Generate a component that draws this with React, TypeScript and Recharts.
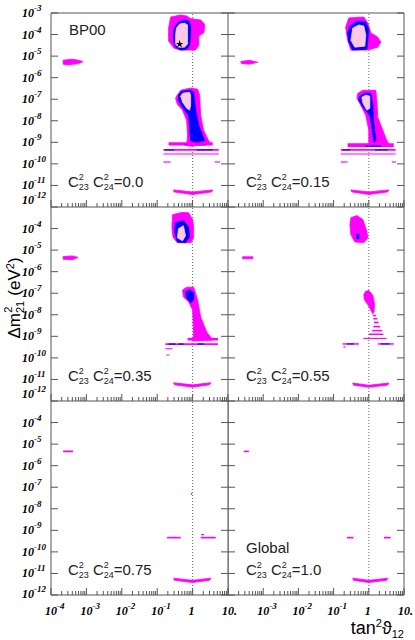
import React from "react";
import {
  ScatterChart,
  Scatter,
  XAxis,
  YAxis,
  ReferenceLine,
  ReferenceArea,
  Symbols,
} from "recharts";

type Poly = [number, number][];
// [x1, x2, y1, y2]
type Stripe = [number, number, number, number];

const X_DOMAIN: [number, number] = [1e-4, 10];
const Y_DOMAIN: [number, number] = [1e-12, 1e-3];

const xMajor = [1e-4, 1e-3, 1e-2, 1e-1, 1, 10];
const xMinor = [1e-4, 1e-3, 1e-2, 1e-1, 1].flatMap((d) =>
  [2, 3, 4, 5, 6, 7, 8, 9].map((k) => k * d)
);
const xAllTicks = [...xMajor, ...xMinor];
const yMajor = [1e-12, 1e-11, 1e-10, 1e-9, 1e-8, 1e-7, 1e-6, 1e-5, 1e-4, 1e-3];
const yLabelsTop = yMajor;
const yLabelsRest = [1e-12, 1e-11, 1e-10, 1e-9, 1e-8, 1e-7, 1e-6, 1e-5, 1e-4];
const xLabelsLeft = [1e-4, 1e-3, 1e-2, 1e-1, 1, 10];
const xLabelsRight = [1e-3, 1e-2, 1e-1, 1, 10];

const mixValues = ["0.0", "0.15", "0.35", "0.55", "0.75", "1.0"];
const bestFit: Poly = [[0.43, 3.6e-5]];

// ---- C23^2 C24^2 = 0.0 (BP00)
const tlMagenta: Poly[] = [
  [[0.24, 6.5e-4], [0.46, 8.1e-4], [0.68, 7.3e-4], [0.87, 5.5e-4], [1.7, 4.7e-4], [2.2, 3e-4], [2.1, 1.25e-4], [1.5, 8.5e-5], [1.5, 3.2e-5], [1.2, 1.9e-5], [0.46, 1.9e-5], [0.3, 2.3e-5], [0.21, 5e-5], [0.21, 2e-4]],
  [[2.2e-4, 6.5e-6], [4e-4, 7.2e-6], [6e-4, 6.5e-6], [8e-4, 5.5e-6], [6e-4, 4.5e-6], [3e-4, 3.9e-6], [2.2e-4, 4.2e-6]],
  [[0.37, 1.55e-7], [0.46, 2.6e-7], [0.88, 3.3e-7], [1.39, 2.9e-7], [1.58, 1.55e-7], [1.69, 1.8e-8], [2.05, 3.6e-9], [2.85, 1.2e-9], [3.25, 8.5e-10], [0.88, 6.5e-10], [0.68, 7.2e-10], [0.72, 2.1e-9], [0.68, 1.05e-8], [0.52, 3.1e-8], [0.37, 5.9e-8], [0.33, 1.1e-7]],
  [[0.29, 6.2e-12], [1, 5e-12], [3.7, 6.2e-12], [3.4, 5e-12], [1, 3.8e-12], [0.3, 5e-12]],
];
const tlBlue: Poly[] = [
  [[0.31, 2.2e-4], [0.4, 3.8e-4], [0.59, 4.7e-4], [0.77, 4.3e-4], [0.88, 2.5e-4], [0.88, 9.5e-5], [0.82, 3.2e-5], [0.68, 2.1e-5], [0.46, 1.9e-5], [0.33, 2.6e-5], [0.29, 5.5e-5], [0.29, 1.2e-4]],
  [[0.4, 1.55e-7], [0.49, 2.35e-7], [0.88, 2.6e-7], [1.07, 2.1e-7], [1.22, 3.1e-8], [1.48, 6.2e-9], [2.2, 1.2e-9], [1.3, 1e-9], [0.88, 1.2e-9], [0.82, 6.2e-9], [0.77, 1.8e-8], [0.59, 3.1e-8], [0.46, 5.9e-8], [0.4, 9e-8]],
];
const tlPink: Poly[] = [
  [[0.35, 2e-4], [0.43, 3.1e-4], [0.59, 3.4e-4], [0.72, 2.8e-4], [0.72, 9.5e-5], [0.72, 3.6e-5], [0.59, 2.6e-5], [0.4, 2.6e-5], [0.33, 3.6e-5], [0.33, 9.5e-5]],
  [[0.46, 1.38e-7], [0.52, 1.9e-7], [0.82, 2.1e-7], [0.88, 1.55e-7], [0.88, 5.2e-8], [0.82, 3.1e-8], [0.68, 3.8e-8], [0.52, 7.2e-8]],
];
const tlStripesM: Stripe[] = [
  [0.21, 3.7, 7.2e-10, 1e-9],
  [0.15, 5.5, 4.1e-10, 4.9e-10],
  [0.15, 5.5, 2.7e-10, 3e-10],
  [0.15, 0.24, 1.15e-10, 1.3e-10],
  [4.2, 6, 1.15e-10, 1.3e-10],
];
const tlStripesB: Stripe[] = [
  [0.6, 2.4, 7.2e-10, 8e-10],
  [0.16, 0.3, 4.2e-10, 4.7e-10],
  [1.3, 3.7, 4.2e-10, 4.7e-10],
];

// ---- 0.15
const trMagenta: Poly[] = [
  [[0.27, 5.9e-4], [0.72, 6.5e-4], [0.94, 3.4e-4], [1.14, 1.2e-4], [1.8, 7.6e-5], [2.2, 4.5e-5], [1.8, 2.6e-5], [0.94, 1.9e-5], [0.31, 1.9e-5], [0.25, 5.5e-5], [0.22, 2.2e-4]],
  [[2.3e-4, 5.6e-6], [4e-4, 6.4e-6], [7e-4, 5.2e-6], [4e-4, 4.2e-6], [2.4e-4, 4.6e-6]],
  [[0.49, 1.9e-7], [0.68, 2.6e-7], [1.58, 2.6e-7], [1.69, 9e-8], [1.8, 1.45e-8], [2.5, 3.6e-9], [3.25, 1.2e-9], [3.7, 8.9e-10], [1.0, 8.9e-10], [1.0, 3.6e-9], [0.82, 1.8e-8], [0.59, 5.2e-8], [0.46, 1.1e-7]],
  [[0.31, 6.2e-12], [1, 5e-12], [3.7, 6.2e-12], [3.4, 5e-12], [1, 3.8e-12], [0.33, 5e-12]],
];
const trBlue: Poly[] = [
  [[0.31, 2.8e-4], [0.49, 4.2e-4], [0.82, 3.8e-4], [1.0, 1.6e-4], [0.94, 5.5e-5], [0.88, 2.1e-5], [0.35, 1.9e-5], [0.27, 4.5e-5], [0.25, 1.2e-4]],
  [[0.55, 1.38e-7], [0.77, 1.9e-7], [1.14, 1.9e-7], [1.3, 5.2e-8], [1.35, 1.05e-8], [1.6, 1.2e-9], [1.4, 1e-9], [1.2, 6.2e-9], [1.07, 1.8e-8], [0.68, 4.3e-8], [0.52, 9e-8]],
];
const trPink: Poly[] = [
  [[0.35, 2e-4], [0.52, 2.8e-4], [0.72, 2.5e-4], [0.82, 9.5e-5], [0.77, 2.9e-5], [0.4, 2.6e-5], [0.31, 5.5e-5]],
  [[0.63, 1.23e-7], [0.82, 1.55e-7], [1.07, 1.38e-7], [1.07, 3.8e-8], [0.88, 3.1e-8], [0.68, 6.6e-8]],
];
const trStripesM: Stripe[] = [
  [0.25, 5.1, 6e-10, 9e-10],
  [0.16, 5.8, 4.1e-10, 4.9e-10],
  [0.16, 5.8, 2.7e-10, 3e-10],
  [0.16, 0.25, 1.15e-10, 1.3e-10],
  [4.5, 6, 1.15e-10, 1.3e-10],
];
const trStripesB: Stripe[] = [
  [0.8, 2.2, 6.2e-10, 7e-10],
  [0.18, 0.3, 4.2e-10, 4.7e-10],
  [1.5, 3.5, 4.2e-10, 4.7e-10],
];

// ---- 0.35
const mlMagenta: Poly[] = [
  [[0.27, 4.4e-4], [0.5, 5.6e-4], [0.77, 5.4e-4], [1.0, 2.6e-4], [1.07, 1.2e-4], [1.07, 4e-5], [0.9, 2.2e-5], [0.37, 2.2e-5], [0.28, 4e-5], [0.26, 1.1e-4]],
  [[2.2e-4, 5e-6], [4e-4, 5.4e-6], [5.8e-4, 4.6e-6], [4e-4, 3.6e-6], [2.2e-4, 3.8e-6]],
  [[0.52, 1.4e-7], [0.68, 1.9e-7], [1.07, 1.9e-7], [1.39, 4.9e-8], [1.69, 7.9e-9], [2.5, 1.6e-9], [3.7, 6.7e-10], [1.0, 6e-10], [1.07, 1.4e-9], [1.0, 1.7e-8], [0.77, 4e-8], [0.55, 6.7e-8]],
  [[0.29, 7e-12], [1, 5.6e-12], [3.25, 7e-12], [3.0, 5.6e-12], [1, 4.4e-12], [0.31, 5.6e-12]],
];
const mlBlue: Poly[] = [
  [[0.33, 1.9e-4], [0.55, 2.3e-4], [0.77, 1.2e-4], [0.82, 4.1e-5], [0.63, 2.2e-5], [0.37, 2.4e-5], [0.31, 7.1e-5]],
  [[0.63, 1.15e-7], [0.82, 1.4e-7], [1.07, 1.05e-7], [1.07, 4.9e-8], [0.88, 3.6e-8], [0.68, 6e-8]],
];
const mlPink: Poly[] = [
  [[0.4, 1e-4], [0.55, 1.35e-4], [0.63, 4.6e-5], [0.52, 2.7e-5], [0.37, 3.7e-5]],
];
const mlStripesM: Stripe[] = [
  [0.72, 5.2, 6.4e-10, 8.5e-10],
  [0.17, 5.2, 4.0e-10, 4.8e-10],
  [0.17, 0.27, 2.5e-10, 2.8e-10],
  [0.18, 0.22, 1.3e-10, 1.45e-10],
];
const mlStripesB: Stripe[] = [
  [0.21, 0.33, 4.1e-10, 4.7e-10],
  [0.4, 0.55, 4.1e-10, 4.7e-10],
  [1.39, 2.05, 4.1e-10, 4.7e-10],
];

// ---- 0.55
const mrMagenta: Poly[] = [
  [[0.31, 3.2e-4], [0.46, 4e-4], [0.68, 2.6e-4], [0.88, 7.3e-5], [0.94, 3.7e-5], [0.72, 2.2e-5], [0.4, 2.4e-5], [0.31, 5.1e-5], [0.29, 1.5e-4]],
  [[2.6e-4, 4.9e-6], [5.1e-4, 4.9e-6], [5.1e-4, 4e-6], [2.6e-4, 4e-6]],
  [[0.72, 8.4e-8], [0.8, 1.2e-7], [1.0, 1.35e-7], [1.3, 8e-8], [1.45, 3.2e-8], [1.42, 1.4e-8], [1.3, 1.1e-8], [1.0, 2.5e-8], [0.75, 5e-8]],
  [[0.35, 6.8e-12], [1, 5.4e-12], [3.7, 6.8e-12], [3.4, 5.4e-12], [1, 4.4e-12], [0.37, 5.4e-12]],
];
const mrBlue: Poly[] = [
  [[0.45, 5.6e-5], [0.52, 5.6e-5], [0.52, 3.4e-5], [0.45, 3.4e-5]],
];
const mrPink: Poly[] = [];
const mrStripesM: Stripe[] = [
  [1.3, 1.6, 8.5e-9, 1e-8],
  [1.35, 1.75, 6e-9, 7.2e-9],
  [1.4, 1.9, 4e-9, 4.8e-9],
  [1.35, 2.1, 2.6e-9, 3.1e-9],
  [1.25, 2.4, 1.7e-9, 2e-9],
  [1.0, 2.6, 1.15e-9, 1.35e-9],
  [0.7, 3.2, 7.5e-10, 8.5e-10],
  [0.18, 0.52, 4.1e-10, 4.8e-10],
  [1.8, 5.1, 4.1e-10, 4.8e-10],
  [0.19, 0.22, 3e-10, 3.4e-10],
];
const mrStripesB: Stripe[] = [
  [0.24, 0.38, 4.2e-10, 4.7e-10],
  [2.2, 3.9, 4.2e-10, 4.7e-10],
];

// ---- 0.75
const blMagenta: Poly[] = [
  [[0.29, 6e-12], [1, 4.8e-12], [3.25, 6e-12], [3.0, 4.8e-12], [1, 3.8e-12], [0.31, 4.8e-12]],
];
const blStripesM: Stripe[] = [
  [2.2e-4, 4.2e-4, 4.2e-6, 5e-6],
  [0.9, 0.97, 4.5e-8, 5.5e-8],
  [0.19, 0.46, 4.2e-10, 5e-10],
  [1.69, 4.5, 4.2e-10, 5e-10],
  [1.75, 2.1, 5.9e-10, 6.8e-10],
];

// ---- 1.0 (Global)
const brMagenta: Poly[] = [
  [[0.35, 6e-12], [1, 4.8e-12], [3.5, 6e-12], [3.2, 4.8e-12], [1, 3.8e-12], [0.37, 4.8e-12]],
];
const brStripesM: Stripe[] = [
  [2.8e-4, 3.9e-4, 4.2e-6, 5e-6],
  [0.24, 0.37, 4.2e-10, 5e-10],
  [2.7, 4.2, 4.2e-10, 5e-10],
];

const MAGENTA = "#ff00ff";
const BLUE = "#0000ff";
const PINK = "#ffc8e4";
const AXIS = "#555";
const SANS = "'Liberation Sans', Arial, sans-serif";
const SERIF = "'Liberation Serif', 'Times New Roman', serif";

interface PanelCfg {
  id: string;
  row: number;
  col: number;
  magenta: Poly[];
  blue: Poly[];
  pink: Poly[];
  stripesM: Stripe[];
  stripesB: Stripe[];
  star?: Poly;
}

const panels: PanelCfg[] = [
  { id: "tl", row: 0, col: 0, magenta: tlMagenta, blue: tlBlue, pink: tlPink, stripesM: tlStripesM, stripesB: tlStripesB, star: bestFit },
  { id: "tr", row: 0, col: 1, magenta: trMagenta, blue: trBlue, pink: trPink, stripesM: trStripesM, stripesB: trStripesB },
  { id: "ml", row: 1, col: 0, magenta: mlMagenta, blue: mlBlue, pink: mlPink, stripesM: mlStripesM, stripesB: mlStripesB },
  { id: "mr", row: 1, col: 1, magenta: mrMagenta, blue: mrBlue, pink: mrPink, stripesM: mrStripesM, stripesB: mrStripesB },
  { id: "bl", row: 2, col: 0, magenta: blMagenta, blue: [], pink: [], stripesM: blStripesM, stripesB: [] },
  { id: "br", row: 2, col: 1, magenta: brMagenta, blue: [], pink: [], stripesM: brStripesM, stripesB: [] },
];

const Empty = () => <g />;

const StarShape = (props: any) => (
  <Symbols type="star" size={18} cx={props.cx} cy={props.cy} fill="#000" />
);

const labelStyle = {
  fontFamily: SERIF,
  fontWeight: "bold" as const,
  fontStyle: "italic" as const,
  fontSize: 12,
  fill: "#000",
};

const near = (a: number, b: number) => Math.abs(a / b - 1) < 1e-6;
const isMajor = (v: number) => xMajor.some((m) => near(v, m));

// tick marks drawn inward; labels outside for the outer panels
const makeBottomTick = (labels: number[] | null) => (props: any) => {
  const { x, y, payload } = props;
  const v = payload.value;
  const len = isMajor(v) ? 7 : 4;
  let label = null;
  if (labels && labels.some((l) => near(v, l))) {
    if (near(v, 1)) {
      label = (
        <text x={x - 4} y={y + 20} {...labelStyle}>
          1
        </text>
      );
    } else if (near(v, 10)) {
      label = (
        <text x={x - 6} y={y + 20} {...labelStyle}>
          10.
        </text>
      );
    } else {
      label = (
        <text x={x - 6} y={y + 20} {...labelStyle}>
          10
          <tspan dy={-6} fontSize={9}>
            {Math.round(Math.log10(v))}
          </tspan>
        </text>
      );
    }
  }
  return (
    <g>
      <line x1={x} x2={x} y1={y} y2={y - len} stroke={AXIS} />
      {label}
    </g>
  );
};

const TopTick = (props: any) => {
  const { x, y, payload } = props;
  const len = isMajor(payload.value) ? 7 : 4;
  return <line x1={x} x2={x} y1={y} y2={y + len} stroke={AXIS} />;
};

const makeLeftTick = (labels: number[] | null, row: number) => (props: any) => {
  const { x, y, payload } = props;
  const v = payload.value;
  const e = Math.round(Math.log10(v));
  const dy = e === -12 ? (row < 2 ? -3 : 3) : 4;
  const show = labels && labels.some((l) => near(v, l));
  return (
    <g>
      <line x1={x} x2={x + 7} y1={y} y2={y} stroke={AXIS} />
      {show && (
        <text x={x - 29} y={y + dy} {...labelStyle}>
          10
          <tspan dy={-6} fontSize={9}>
            {e}
          </tspan>
        </text>
      )}
    </g>
  );
};

const RightTick = (props: any) => {
  const { x, y } = props;
  return <line x1={x} x2={x - 7} y1={y} y2={y} stroke={AXIS} />;
};

const polyScatter = (key: string, poly: Poly, color: string) => (
  <Scatter
    key={key}
    xAxisId="b"
    yAxisId="l"
    data={poly.map(([x, y]) => ({ x, y }))}
    shape={Empty}
    line={{ fill: color, stroke: color, strokeWidth: 0.8 }}
    lineType="joint"
    lineJointType="linearClosed"
    legendType="none"
    isAnimationActive={false}
  />
);

const stripeArea = (key: string, s: Stripe, color: string) => (
  <ReferenceArea
    key={key}
    xAxisId="b"
    yAxisId="l"
    x1={s[0]}
    x2={s[1]}
    y1={s[2]}
    y2={s[3]}
    fill={color}
    fillOpacity={1}
    stroke="none"
    ifOverflow="visible"
  />
);

const logX = { type: "number" as const, scale: "log" as const, domain: X_DOMAIN, allowDataOverflow: true, interval: 0 as const };
const logY = { type: "number" as const, scale: "log" as const, domain: Y_DOMAIN, allowDataOverflow: true, interval: 0 as const };
const axisCommon = { mirror: true, tickSize: 0, tickMargin: 0, tickLine: false, axisLine: { stroke: AXIS } };

function Panel({ p }: { p: PanelCfg }) {
  const leftCol = p.col === 0;
  const labW = leftCol ? 51 : 0;
  const plotW = leftCol ? 177 : 176;
  const mTop = p.row === 0 ? 13 : 0;
  // room for the "10." label at the right end of the bottom row
  const mRight = p.row === 2 || !leftCol ? 11 : 0;
  const labH = p.row === 2 ? 30 : 0;
  const width = labW + plotW + mRight;
  const height = mTop + 194 + labH;
  const left = leftCol ? 0 : 228;
  const top = [0, 207, 401][p.row];

  const xLabels = p.row === 2 ? (leftCol ? xLabelsLeft : xLabelsRight) : null;
  const yLabels = leftCol ? (p.row === 0 ? yLabelsTop : yLabelsRest) : null;

  return (
    <div style={{ position: "absolute", left, top }}>
      <ScatterChart
        width={width}
        height={height}
        margin={{ top: mTop, right: mRight, bottom: labH, left: labW }}
      >
        <XAxis xAxisId="b" dataKey="x" {...logX} {...axisCommon} orientation="bottom" height={1} ticks={xAllTicks} tick={makeBottomTick(xLabels)} />
        <XAxis xAxisId="t" {...logX} {...axisCommon} orientation="top" height={1} ticks={xAllTicks} tick={TopTick} />
        <YAxis yAxisId="l" dataKey="y" {...logY} {...axisCommon} orientation="left" width={1} ticks={yMajor} tick={makeLeftTick(yLabels, p.row)} />
        <YAxis yAxisId="r" {...logY} {...axisCommon} orientation="right" width={1} ticks={yMajor} tick={RightTick} />

        <ReferenceLine xAxisId="b" yAxisId="l" x={1} stroke="#666" strokeDasharray="1 2" />

        {p.magenta.map((poly, i) => polyScatter(`m${i}`, poly, MAGENTA))}
        {p.blue.map((poly, i) => polyScatter(`b${i}`, poly, BLUE))}
        {p.pink.map((poly, i) => polyScatter(`p${i}`, poly, PINK))}
        {p.stripesM.map((s, i) => stripeArea(`sm${i}`, s, MAGENTA))}
        {p.stripesB.map((s, i) => stripeArea(`sb${i}`, s, BLUE))}
        {p.star && (
          <Scatter
            xAxisId="b"
            yAxisId="l"
            data={p.star.map(([x, y]) => ({ x, y }))}
            shape={StarShape}
            legendType="none"
            isAnimationActive={false}
          />
        )}
      </ScatterChart>
    </div>
  );
}

function MixLabel({ x, y, value }: { x: number; y: number; value: string }) {
  return (
    <text x={x} y={y} fontFamily={SANS} fontSize={15} fill="#222">
      C
      <tspan fontSize={9} dy={3}>23</tspan>
      <tspan fontSize={9} dx={-10} dy={-10}>2</tspan>
      <tspan dx={9} dy={7}>C</tspan>
      <tspan fontSize={9} dy={3}>24</tspan>
      <tspan fontSize={9} dx={-10} dy={-10}>2</tspan>
      <tspan dx={5} dy={7}>={value}</tspan>
    </text>
  );
}

export default function App() {
  const labelPos = [
    [68, 187],
    [246, 187],
    [68, 381],
    [246, 381],
    [68, 575],
    [246, 575],
  ];
  return (
    <div
      style={{
        position: "absolute",
        left: 0,
        top: 0,
        width: 415,
        height: 640,
        background: "#fff",
        overflow: "hidden",
      }}
    >
      {panels.map((p) => (
        <Panel key={p.id} p={p} />
      ))}

      {/* annotations */}
      <svg
        width={415}
        height={640}
        style={{ position: "absolute", left: 0, top: 0, pointerEvents: "none" }}
      >
        <text x={69} y={35} fontFamily={SANS} fontSize={15} fill="#222">
          BP00
        </text>
        {labelPos.map(([x, y], i) => (
          <MixLabel key={i} x={x} y={y} value={mixValues[i]} />
        ))}
        <text x={246} y={553} fontFamily={SANS} fontSize={15} fill="#222">
          Global
        </text>

        <text x={404} y={634} textAnchor="end" fontFamily={SANS} fontSize={18} fill="#000">
          tan
          <tspan fontSize={11} dy={-7}>2</tspan>
          <tspan dy={7}>ϑ</tspan>
          <tspan fontSize={11} dy={4}>12</tspan>
        </text>

        <text
          x={20}
          y={298}
          textAnchor="middle"
          transform="rotate(-90, 20, 298)"
          fontFamily={SANS}
          fontSize={17}
          fill="#000"
        >
          Δm
          <tspan fontSize={11} dy={4}>21</tspan>
          <tspan fontSize={11} dx={-12} dy={-12}>2</tspan>
          <tspan dx={11} dy={8}>(eV</tspan>
          <tspan fontSize={11} dy={-6}>2</tspan>
          <tspan dy={6}>)</tspan>
        </text>
      </svg>
    </div>
  );
}
